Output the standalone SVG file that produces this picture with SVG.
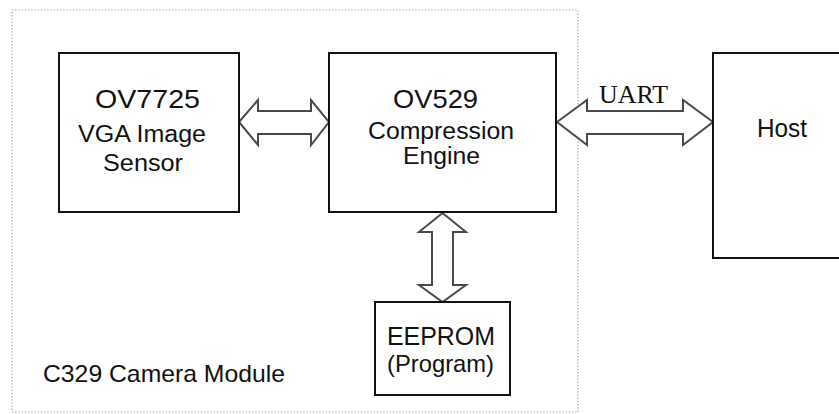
<svg xmlns="http://www.w3.org/2000/svg" width="839" height="414" viewBox="0 0 839 414">
<style>
.box{fill:#fff;stroke:#111;stroke-width:2}
.arr{fill:#fff;stroke:#4a4a4a;stroke-width:2;stroke-linejoin:miter}
.t{font-family:"Liberation Sans",Arial,sans-serif;fill:#111;text-anchor:middle}
.s{font-family:"Liberation Serif","Times New Roman",serif;fill:#111;text-anchor:middle}
.frame{fill:none;stroke:#9a9a9a;stroke-width:1.2;stroke-dasharray:1.2,2}
</style>
<rect width="839" height="414" fill="#fff"/>
<g id="module">
<rect class="frame" x="12" y="10" width="566" height="402"/>
<text class="t" x="164" y="382" font-size="24" textLength="242" lengthAdjust="spacingAndGlyphs">C329 Camera Module</text>
</g>
<g id="connectors">
<path class="arr" d="M239,122 L258,100 L258,111 L311,111 L311,100 L329,122 L311,145 L311,134 L258,134 L258,145 Z"/>
<path class="arr" d="M557,122 L587,100 L587,111 L683,111 L683,100 L713,122 L683,145 L683,134 L587,134 L587,145 Z"/>
<text class="s" x="633.5" y="103" font-size="25" textLength="69" lengthAdjust="spacingAndGlyphs">UART</text>
<path class="arr" d="M442.5,213 L466,232 L453,232 L453,285 L466,285 L442.5,302 L419,285 L432,285 L432,232 L419,232 Z"/>
</g>
<g id="sensor">
<rect class="box" x="59" y="53" width="180" height="159"/>
<text class="t" x="147.5" y="108" font-size="26" textLength="105" lengthAdjust="spacingAndGlyphs">OV7725</text>
<text class="t" x="142" y="141.5" font-size="23.5" textLength="128" lengthAdjust="spacingAndGlyphs">VGA Image</text>
<text class="t" x="143" y="171" font-size="23.5" textLength="80" lengthAdjust="spacingAndGlyphs">Sensor</text>
</g>
<g id="engine">
<rect class="box" x="329" y="53" width="227" height="159"/>
<text class="t" x="435.5" y="107.5" font-size="26" textLength="85" lengthAdjust="spacingAndGlyphs">OV529</text>
<text class="t" x="441" y="138.5" font-size="23.5" textLength="146" lengthAdjust="spacingAndGlyphs">Compression</text>
<text class="t" x="441.5" y="164" font-size="23.5" textLength="77" lengthAdjust="spacingAndGlyphs">Engine</text>
</g>
<g id="host">
<rect class="box" x="713" y="53" width="140" height="205"/>
<text class="t" x="782" y="137" font-size="25" textLength="50" lengthAdjust="spacingAndGlyphs">Host</text>
</g>
<g id="eeprom">
<rect class="box" x="375" y="302" width="135" height="93"/>
<text class="t" x="441" y="345" font-size="25" textLength="108" lengthAdjust="spacingAndGlyphs">EEPROM</text>
<text class="t" x="440.5" y="372" font-size="24" textLength="107" lengthAdjust="spacingAndGlyphs">(Program)</text>
</g>
</svg>
